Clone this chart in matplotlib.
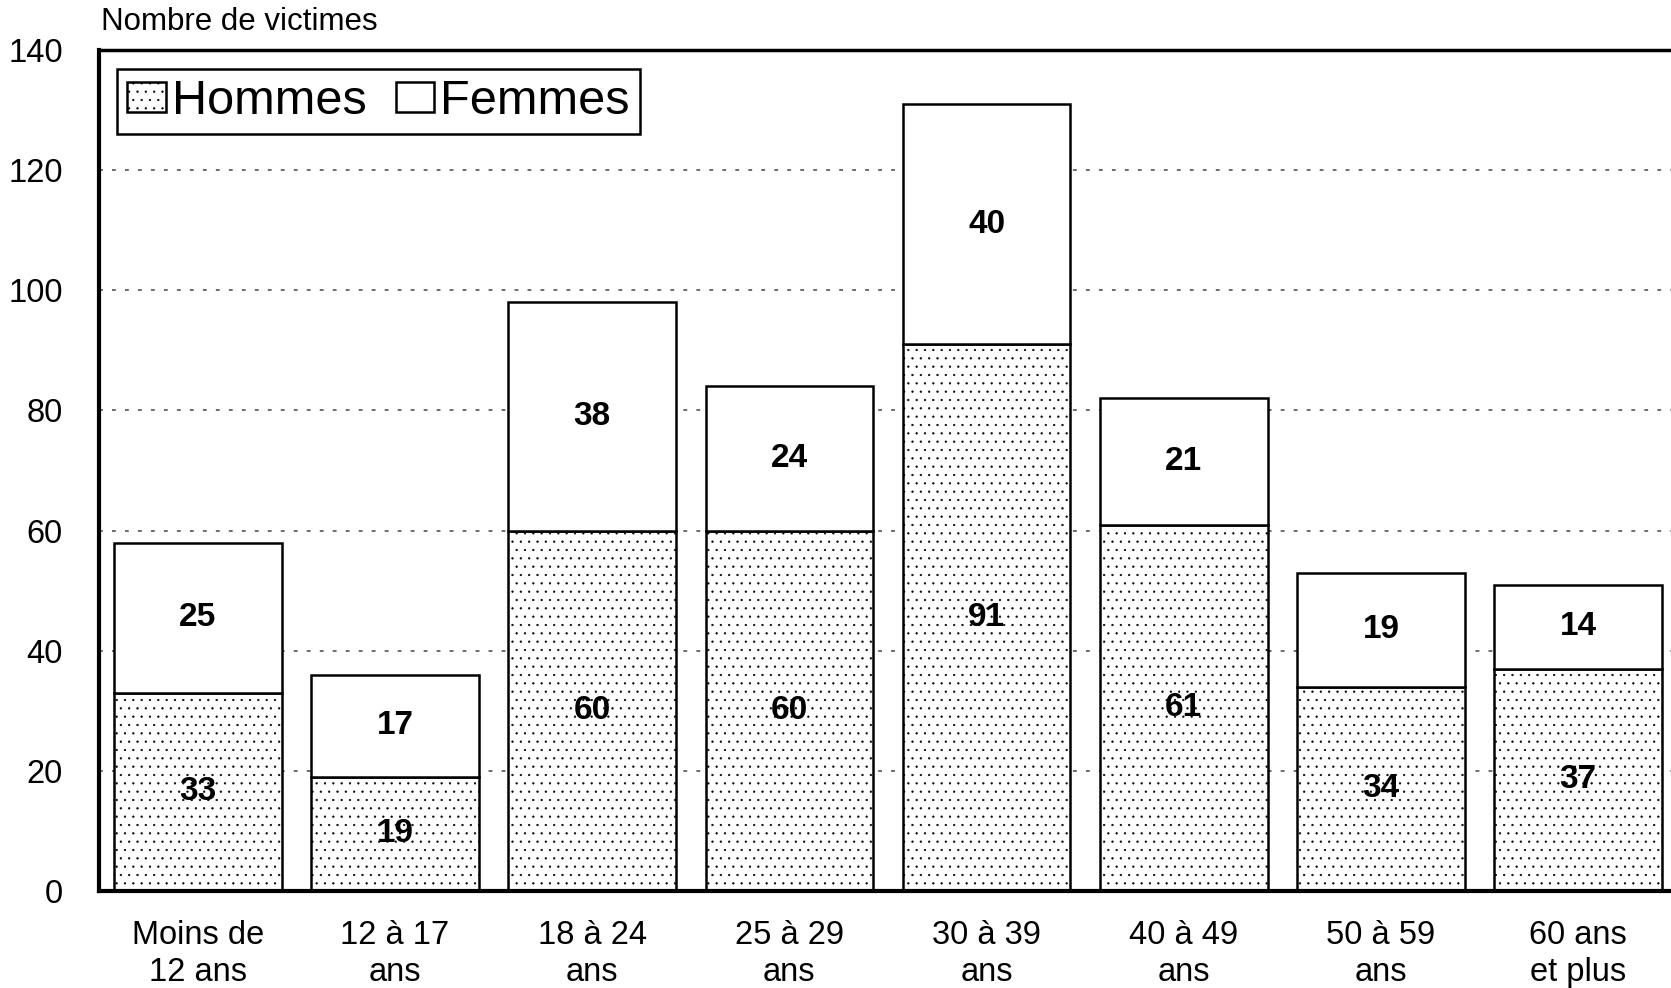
import numpy as np
import matplotlib
matplotlib.use("Agg")
import matplotlib.pyplot as plt

plt.rcParams["font.family"] = ["Liberation Sans", "DejaVu Sans"]
plt.rcParams["hatch.linewidth"] = 0.4

categories = ["Moins de\n12 ans", "12 à 17\nans", "18 à 24\nans", "25 à 29\nans",
              "30 à 39\nans", "40 à 49\nans", "50 à 59\nans", "60 ans\net plus"]
hommes = [33, 19, 60, 60, 91, 61, 34, 37]
femmes = [25, 17, 38, 24, 40, 21, 19, 14]

fig = plt.figure(figsize=(16.71, 9.88), dpi=100)
ax = fig.add_axes([0.0593, 0.0982, 1.0035 - 0.0593, 0.9493 - 0.0982])
x = np.arange(len(categories))

b1 = ax.bar(x, hommes, width=0.85, color="white", edgecolor="black", hatch="..",
            linewidth=1.8, label="Hommes", zorder=2)
b2 = ax.bar(x, femmes, width=0.85, bottom=hommes, color="white", edgecolor="black",
            linewidth=1.8, label="Femmes", zorder=2)
ax.bar_label(b1, label_type="center", fontsize=24, fontweight="bold")
ax.bar_label(b2, label_type="center", fontsize=24, fontweight="bold")

ax.set_xlim(-0.5, 7.5)
ax.set_ylim(0, 140)
ax.set_yticks(range(0, 141, 20))
ax.set_xticks(x, categories, linespacing=1.25)
ax.tick_params(length=0, labelsize=23.5)
ax.tick_params(axis="x", pad=21)
ax.tick_params(axis="y", pad=26)
ax.yaxis.grid(True, color="#444444", linestyle=(0, (2.5, 6)), linewidth=1.1, zorder=0)
ax.set_axisbelow(True)
ax.spines["right"].set_visible(False)
for s in ["left", "bottom"]:
    ax.spines[s].set_linewidth(3)
ax.spines["top"].set_linewidth(2.5)

fig.text(0.0606, 0.978, "Nombre de victimes", fontsize=22.5, va="center", ha="left")

leg = ax.legend(loc="upper left", ncol=2, fontsize=35, frameon=True, fancybox=False,
                framealpha=1, edgecolor="black", handlelength=0.8, handleheight=0.6,
                handletextpad=0.12, columnspacing=0.6, borderpad=0.2,
                bbox_to_anchor=(0.0115, 0.977), borderaxespad=0)
leg.get_frame().set_linewidth(1.8)

fig.savefig("out.png", dpi=100)
